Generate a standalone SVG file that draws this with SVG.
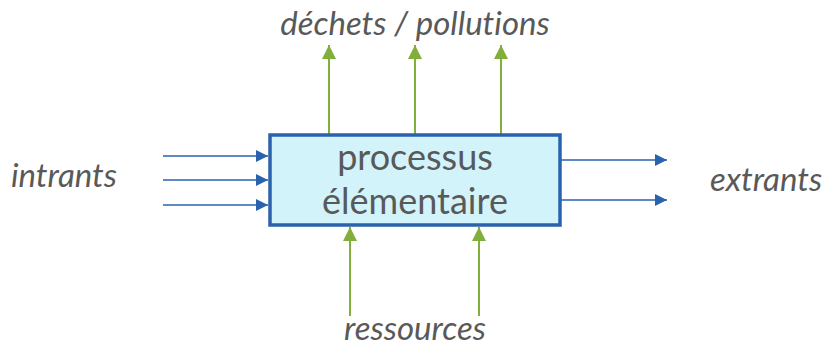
<svg xmlns="http://www.w3.org/2000/svg" width="823" height="347" viewBox="0 0 823 347">
<style>
.lbl{font-family:Lato,"Open Sans","Liberation Sans",sans-serif;font-style:italic;fill:#595959;font-size:33px;font-variant-ligatures:none}
.box{fill:#D3F3FA;stroke:#2A62AE;stroke-width:3.5}
.bt{font-family:Lato,"Open Sans","Liberation Sans",sans-serif;fill:#595959;font-size:36px;font-variant-ligatures:none}
.b{stroke:#2A62AE;stroke-width:1.6;fill:none}
.g{stroke:#82AE3C;stroke-width:2;fill:none}
</style>
<defs>
<marker id="ab" viewBox="0 0 10 10" refX="10" refY="5" markerWidth="14" markerHeight="12" markerUnits="userSpaceOnUse" orient="auto"><path d="M0,0L10,5L0,10z" fill="#2A62AE"/></marker>
<marker id="ag" viewBox="0 0 10 10" refX="10" refY="5" markerWidth="14" markerHeight="14" markerUnits="userSpaceOnUse" orient="auto"><path d="M0,0L10,5L0,10z" fill="#82AE3C"/></marker>
</defs>
<g id="connectors">
<line class="b" x1="163" y1="156" x2="268" y2="156" marker-end="url(#ab)"/>
<line class="b" x1="163" y1="180" x2="268" y2="180" marker-end="url(#ab)"/>
<line class="b" x1="163" y1="205" x2="268" y2="205" marker-end="url(#ab)"/>
<line class="b" x1="560" y1="160" x2="667" y2="160" marker-end="url(#ab)"/>
<line class="b" x1="560" y1="200" x2="667" y2="200" marker-end="url(#ab)"/>
<line class="g" x1="329" y1="134" x2="329" y2="45" marker-end="url(#ag)"/>
<line class="g" x1="415" y1="134" x2="415" y2="45" marker-end="url(#ag)"/>
<line class="g" x1="501" y1="134" x2="501" y2="45" marker-end="url(#ag)"/>
<line class="g" x1="350" y1="316" x2="350" y2="227" marker-end="url(#ag)"/>
<line class="g" x1="479" y1="316" x2="479" y2="227" marker-end="url(#ag)"/>
</g>
<g id="process">
<rect class="box" x="270" y="135" width="290" height="90"/>
<text class="bt" x="415" y="170" text-anchor="middle">processus</text>
<text class="bt" x="415" y="214" text-anchor="middle">élémentaire</text>
</g>
<g id="dechets"><text class="lbl" x="415" y="35" text-anchor="middle">déchets / pollutions</text></g>
<g id="intrants"><text class="lbl" x="64" y="187" text-anchor="middle">intrants</text></g>
<g id="extrants"><text class="lbl" x="766" y="191" text-anchor="middle">extrants</text></g>
<g id="ressources"><text class="lbl" x="415" y="340" text-anchor="middle">ressources</text></g>
</svg>
